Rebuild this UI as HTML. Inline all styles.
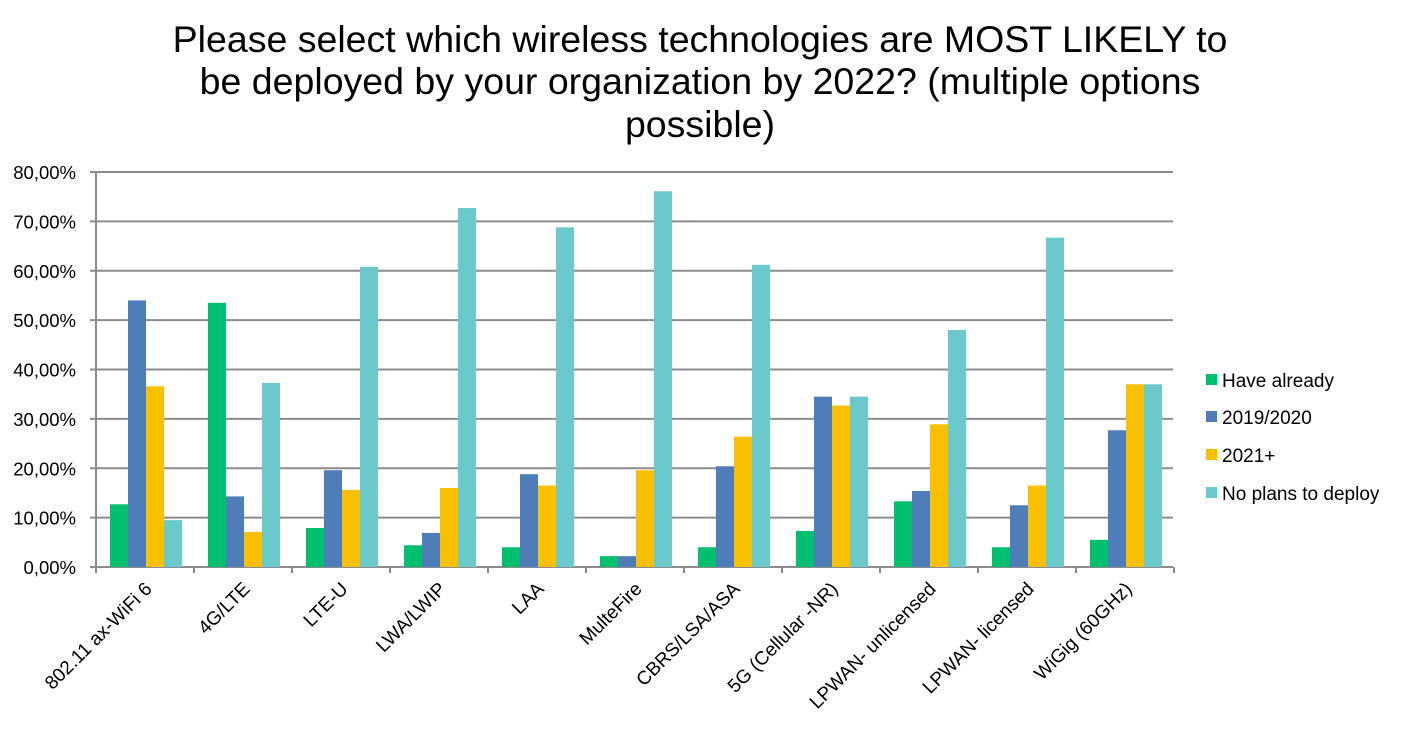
<!DOCTYPE html>
<html><head><meta charset="utf-8"><style>
body{margin:0;background:#fff;}
svg text{font-family:"Liberation Sans",Arial,sans-serif;fill:#000;}
</style></head><body>
<svg width="1402" height="727" xmlns="http://www.w3.org/2000/svg">
<g font-size="37.5" text-anchor="middle">
<text x="700" y="52">Please select which wireless technologies are MOST LIKELY to</text>
<text x="700" y="94">be deployed by your organization by 2022? (multiple options</text>
<text x="700" y="137">possible)</text>
</g>
<g id="grid" stroke="#8c8c8c" stroke-width="2"></g>
<g id="bars"></g>
<g id="lab" font-size="18.5"></g>
<g font-size="19">
<rect x="1206" y="374" width="11" height="11" fill="#00BF6F"/><text x="1222" y="387">Have already</text>
<rect x="1206" y="411" width="11" height="11" fill="#4F7DB7"/><text x="1222" y="424">2019/2020</text>
<rect x="1206" y="449" width="11" height="11" fill="#F9C000"/><text x="1222" y="462">2021+</text>
<rect x="1206" y="487" width="11" height="11" fill="#6CC9CB"/><text x="1222" y="500">No plans to deploy</text>
</g>
</svg>
<script>
var ns="http://www.w3.org/2000/svg";
function el(p,t,a,txt){var e=document.createElementNS(ns,t);for(var k in a)e.setAttribute(k,a[k]);if(txt)e.textContent=txt;document.getElementById(p).appendChild(e);}
var y0=567,ppp=4.9375,x0=96,cw=98;
for(var i=0;i<=8;i++){var y=y0-i*10*ppp;el("grid","line",{x1:90,x2:1173,y1:y,y2:y});
el("lab","text",{x:76,y:y+7,"text-anchor":"end"},(i*10)+",00%");}
el("grid","line",{x1:x0,x2:x0,y1:172,y2:573});
for(var i=0;i<=11;i++)el("grid","line",{x1:x0+i*cw,x2:x0+i*cw,y1:567,y2:573});
var cats=["802.11 ax-WiFi 6","4G/LTE","LTE-U","LWA/LWIP","LAA","MulteFire","CBRS/LSA/ASA","5G (Cellular -NR)","LPWAN- unlicensed","LPWAN- licensed","WiGig (60GHz)"];
var d=[[12.7,54,36.6,9.5],[53.5,14.3,7.1,37.3],[7.9,19.6,15.6,60.8],[4.4,6.9,16,72.7],[4,18.8,16.5,68.8],[2.2,2.2,19.6,76.1],[4,20.4,26.4,61.2],[7.3,34.5,32.7,34.5],[13.3,15.4,28.9,48],[4,12.5,16.5,66.7],[5.5,27.7,37,37]];
var cols=["#00BF6F","#4F7DB7","#F9C000","#6CC9CB"];
for(var c=0;c<11;c++){for(var s=0;s<4;s++){var h=d[c][s]*ppp;el("bars","rect",{x:x0+c*cw+14+s*18,y:y0-h,width:18,height:h,fill:cols[s]});}
var cx=x0+c*cw+cw/2+8,cy=590;
el("lab","text",{x:cx,y:cy,"text-anchor":"end","font-size":"19",transform:"rotate(-45 "+cx+" "+cy+")"},cats[c]);}
</script>
</body></html>
